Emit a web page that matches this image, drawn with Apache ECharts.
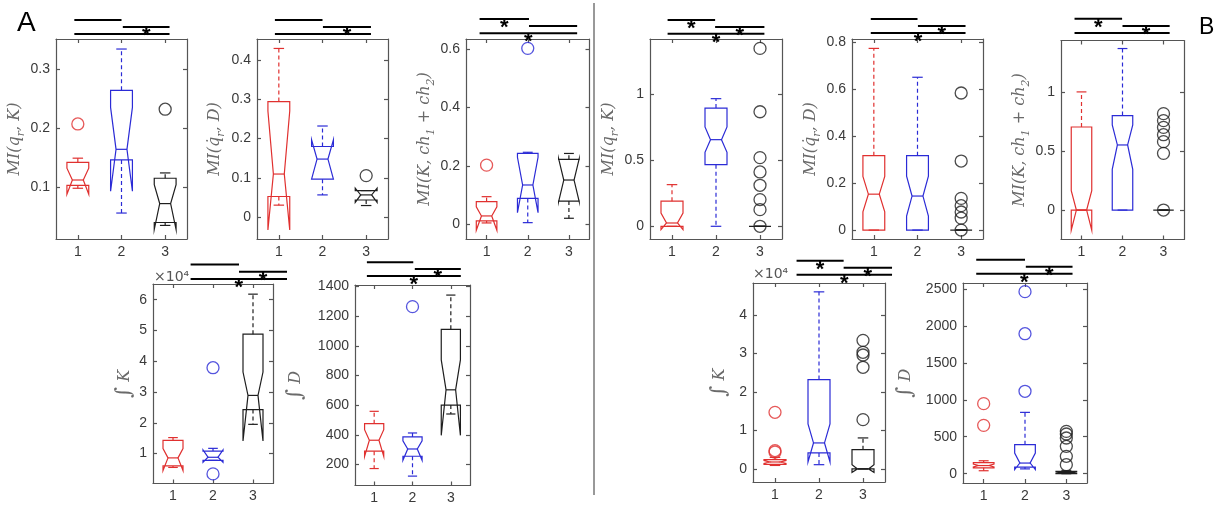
<!DOCTYPE html>
<html><head><meta charset="utf-8">
<script src="https://cdn.jsdelivr.net/npm/echarts@6/dist/echarts.min.js"></script>
<style>html,body{margin:0;padding:0;background:#fff}#c{width:1221px;height:508px}</style>
</head><body><div id="c"></div>
<script>
// ---------------- DATA ----------------
const categories = [1, 2, 3];
// each box row: [low whisker, q1, median, q3, high whisker, notch low, notch high]
const A1_box = [[0.098,0.103,0.112,0.142,0.149,0.088,0.132],[0.056,0.146,0.164,0.264,0.334,0.093,0.235],[0.035,0.040,0.072,0.115,0.124,0.028,0.104]];
const A1_out = [[1,0.207],[3,0.232]];
const A2_box = [[0.031,0.053,0.110,0.294,0.429,-0.032,0.270],[0.057,0.097,0.148,0.180,0.232,0.097,0.197],[0.030,0.044,0.057,0.068,0.068,0.038,0.074]];
const A2_out = [[3,0.106]];
const A3_box = [[0.005,0.012,0.029,0.078,0.095,-0.020,0.060],[0.006,0.089,0.135,0.243,0.247,0.040,0.230],[0.021,0.080,0.152,0.223,0.243,0.078,0.225]];
const A3_out = [[1,0.203],[2,0.603]];
const B1_box = [[0,0,0.025,0.190,0.315,-0.025,0.100],[0,0.466,0.655,0.894,0.965,0.559,0.751],[0,0,0,0,0,0,0]];
const B1_out = [[3,1.345],[3,0.866],[3,0.519],[3,0.411],[3,0.310],[3,0.202],[3,0.126],[3,0]];
const B2_box = [[0,0,0.153,0.317,0.774,0.078,0.229],[0,0,0.145,0.317,0.651,0.060,0.230],[0,0,0,0,0,0,0]];
const B2_out = [[3,0.584],[3,0.294],[3,0.135],[3,0.104],[3,0.077],[3,0.051],[3,0]];
const B3_box = [[0,0,0,0.703,1.0,-0.170,0.164],[0,0,0.551,0.800,1.367,0.345,0.720],[0,0,0,0,0,0,0]];
const B3_out = [[3,0.816],[3,0.757],[3,0.700],[3,0.638],[3,0.579],[3,0.480],[3,0]];
const A4_box = [[5500,6000,8600,14300,15200,4500,11600],[7800,7800,8800,10800,11700,7200,11200],[19500,24300,28900,48800,61800,14100,36500]];
const A4_out = [[2,37900],[2,3400]];
const A5_box = [[173,290,364,476,559,255,435],[122,256,305,386,413,229,360],[541,601,704,1112,1343,397,906]];
const A5_out = [[2,1265]];
const B4_box = [[900,1200,1800,2400,3000,1400,2200],[1100,4160,6750,23200,46000,1800,11700],[0,0,0,5000,8050,-900,1100]];
const B4_out = [[1,14700],[1,4760],[1,4400],[3,33400],[3,30300],[3,29600],[3,26400],[3,12800]];
const B5_box = [[40,80,110,150,175,90,130],[65,90,144,393,830,55,280],[0,0,15,30,40,5,25]];
const B5_out = [[1,948],[1,654],[2,2464],[2,1895],[2,1115],[3,573],[3,537],[3,483],[3,370],[3,235],[3,122]];
// significance bars, top to bottom: [from, to, star]
const A1_sig = [[0.92,2.0,0],[2.03,3.1,1],[0.92,3.1,0]];
const A2_sig = [[0.91,2.0,0],[2.01,3.11,1],[0.91,3.11,0]];
const A3_sig = [[0.83,2.03,1],[2.03,3.2,0],[0.83,3.2,1]];
const B1_sig = [[0.9,1.98,1],[1.98,3.1,1],[0.9,3.1,1]];
const B2_sig = [[0.93,2.0,0],[2.01,3.1,1],[0.93,3.1,1]];
const B3_sig = [[0.83,1.99,1],[2.0,3.15,1],[0.83,3.15,0]];
const A4_sig = [[1.44,2.65,0],[2.65,3.85,1],[1.44,3.85,1]];
const A5_sig = [[0.81,2.02,0],[2.06,3.26,1],[0.81,3.26,1]];
const B4_sig = [[1.49,2.56,1],[2.56,3.66,1],[1.49,3.66,1]];
const B5_sig = [[0.82,2.0,0],[2.02,3.15,1],[0.82,3.15,1]];
// tick values
const A1_ticks = [0.1,0.2,0.3];
const A2_ticks = [0,0.1,0.2,0.3,0.4];
const A3_ticks = [0,0.2,0.4,0.6];
const B1_ticks = [0,0.5,1];
const B2_ticks = [0,0.2,0.4,0.6,0.8];
const B3_ticks = [0,0.5,1];
const A4_ticks = [10000,20000,30000,40000,50000,60000];
const A5_ticks = [200,400,600,800,1000,1200,1400];
const B4_ticks = [0,10000,20000,30000,40000];
const B5_ticks = [0,500,1000,1500,2000,2500];
// axis titles (rich text markup)
const nameMIqK = '{i|MI(q}{s|r}{i|, K)}';
const nameMIqD = '{i|MI(q\u0307}{s|r}{i|, D)}';
const nameMIch = '{i|MI(K, ch}{s|1}{i| + ch}{s|2}{i|)}';
const nameIntK = '{g|\u222B}{i| K}';
const nameIntD = '{g|\u222B}{i| D}';

// ---------------- LAYOUT / STYLE ----------------
const groupColors = ['#e0302f', '#2b2bd6', '#1e1e1e'];
const axisColor = '#555';
const labelColor = '#3a3a3a';
const nameColor = '#6a6a6a';
const panels = [
  {box:A1_box,out:A1_out,sig:A1_sig,ticks:A1_ticks,name:nameMIqK,left:56,top:39,width:131,height:200,min:0.012,max:0.351,gap:28,sb:5,ss:7,div:1},
  {box:A2_box,out:A2_out,sig:A2_sig,ticks:A2_ticks,name:nameMIqD,left:257,top:39,width:131,height:200,min:-0.055,max:0.453,gap:30,sb:5,ss:7,div:1},
  {box:A3_box,out:A3_out,sig:A3_sig,ticks:A3_ticks,name:nameMIch,left:466,top:39,width:123.5,height:200,min:-0.05,max:0.635,gap:26,sb:5.7,ss:7.2,div:1},
  {box:B1_box,out:B1_out,sig:B1_sig,ticks:B1_ticks,name:nameMIqK,left:650,top:39,width:132,height:200,min:-0.096,max:1.416,gap:28,sb:5.3,ss:6.8,div:1},
  {box:B2_box,out:B2_out,sig:B2_sig,ticks:B2_ticks,name:nameMIqD,left:852,top:39,width:131,height:200,min:-0.038,max:0.814,gap:28,sb:6,ss:7,div:1},
  {box:B3_box,out:B3_out,sig:B3_sig,ticks:B3_ticks,name:nameMIch,left:1061,top:40.5,width:123,height:199,min:-0.249,max:1.435,gap:27,sb:7.4,ss:7.2,div:1},
  {box:A4_box,out:A4_out,sig:A4_sig,ticks:A4_ticks,name:nameIntK,left:153,top:284,width:120,height:199.5,min:280,max:65100,gap:16,sb:5,ss:7.2,div:10000},
  {box:A5_box,out:A5_out,sig:A5_sig,ticks:A5_ticks,name:nameIntD,left:355,top:285,width:115,height:200.5,min:58.7,max:1411,gap:47,sb:9,ss:6.9,div:1},
  {box:B4_box,out:B4_out,sig:B4_sig,ticks:B4_ticks,name:nameIntK,left:753,top:283,width:132,height:199,min:-3400,max:48300,gap:21,sb:8.3,ss:7,div:10000},
  {box:B5_box,out:B5_out,sig:B5_sig,ticks:B5_ticks,name:nameIntD,left:963,top:283,width:124,height:200,min:-126,max:2581,gap:45,sb:9.3,ss:7,div:1}
];

const sansFont = '"Liberation Sans", Arial, Helvetica, sans-serif';
const serifFont = '"DejaVu Serif", "Liberation Serif", serif';
const nameRich = {
  i:{fontFamily:serifFont,fontStyle:'italic',fontSize:16,color:nameColor,lineHeight:24},
  s:{fontFamily:serifFont,fontStyle:'italic',fontSize:11,color:nameColor,verticalAlign:'bottom'},
  g:{fontFamily:serifFont,fontStyle:'italic',fontSize:21,color:nameColor,lineHeight:24}
};

function renderBox(params, api) {
  const x = api.value(0);
  const lo = api.value(1), q1 = api.value(2), med = api.value(3), q3 = api.value(4), hi = api.value(5), nlo = api.value(6), nhi = api.value(7);
  const c = (xx, yy) => api.coord([xx, yy]);
  const hw = 0.25, nw = 0.125, cw = 0.12;
  const color = groupColors[Math.round(x) - 1];
  const pts = [c(x-hw,q3), c(x-hw,nhi), c(x-nw,med), c(x-hw,nlo), c(x-hw,q1), c(x+hw,q1), c(x+hw,nlo), c(x+nw,med), c(x+hw,nhi), c(x+hw,q3)];
  const solid = {stroke:color, lineWidth:1.2, fill:null};
  const dashed = {stroke:color, lineWidth:1.2, lineDash:[4,3], fill:null};
  const line = (a, b, st) => ({type:'line', shape:{x1:a[0],y1:a[1],x2:b[0],y2:b[1]}, style:st});
  return {type:'group', children:[
    line(c(x,q3), c(x,hi), dashed),
    line(c(x,q1), c(x,lo), dashed),
    line(c(x-cw,hi), c(x+cw,hi), solid),
    line(c(x-cw,lo), c(x+cw,lo), solid),
    {type:'polygon', shape:{points:pts}, style:{stroke:color, lineWidth:1.2, fill:null}},
    line(c(x-nw,med), c(x+nw,med), solid)
  ]};
}

function makeSigRenderer(p) {
  return function (params, api) {
    const n = p.sig.length;
    const level = n - 1 - params.dataIndex;
    const y = params.coordSys.y - (p.sb + level * p.ss);
    const x1 = api.coord([api.value(0), p.min])[0];
    const x2 = api.coord([api.value(1), p.min])[0];
    const children = [{type:'line', shape:{x1:x1,y1:y,x2:x2,y2:y}, style:{stroke:'#000', lineWidth:2}}];
    if (api.value(2)) {
      children.push({type:'text', x:(x1+x2)/2, y:y+9, style:{text:'*', fontSize:22, fontWeight:'bold', fontFamily:sansFont, fill:'#000', align:'center', verticalAlign:'middle'}});
    }
    return {type:'group', children};
  };
}

const grid = [], xAxis = [], yAxis = [], series = [];
panels.forEach((p, i) => {
  grid.push({left:p.left, top:p.top, width:p.width, height:p.height, containLabel:false});
  const lineStyle = {color:axisColor, width:1.2};
  xAxis.push({gridIndex:i, type:'value', min:0.5, max:3.5, position:'bottom',
    axisLine:{show:true, onZero:false, lineStyle},
    axisTick:{show:true, inside:true, length:4, customValues:categories, lineStyle},
    axisLabel:{show:true, customValues:categories, fontSize:14, color:labelColor, margin:6, fontFamily:sansFont},
    splitLine:{show:false}});
  xAxis.push({gridIndex:i, type:'value', min:0.5, max:3.5, position:'top',
    axisLine:{show:true, onZero:false, lineStyle},
    axisTick:{show:true, inside:true, length:4, customValues:categories, lineStyle},
    axisLabel:{show:false}, splitLine:{show:false}});
  yAxis.push({gridIndex:i, type:'value', min:p.min, max:p.max, position:'left',
    axisLine:{show:true, onZero:false, lineStyle},
    axisTick:{show:true, inside:true, length:4, customValues:p.ticks, lineStyle},
    axisLabel:{show:true, customValues:p.ticks, fontSize:14, color:labelColor, margin:6, fontFamily:sansFont,
      formatter:(v) => String(+(v / p.div).toFixed(3))},
    splitLine:{show:false},
    name:p.name, nameLocation:'middle', nameGap:p.gap, nameRotate:90,
    nameTextStyle:{rich:nameRich}});
  yAxis.push({gridIndex:i, type:'value', min:p.min, max:p.max, position:'right',
    axisLine:{show:true, onZero:false, lineStyle},
    axisTick:{show:true, inside:true, length:4, customValues:p.ticks, lineStyle},
    axisLabel:{show:false}, splitLine:{show:false}});
  series.push({type:'custom', xAxisIndex:2*i, yAxisIndex:2*i, clip:false, silent:true,
    renderItem:renderBox, encode:{x:0, y:[1,2,3,4,5,6,7]},
    data:p.box.map((row, g) => [categories[g]].concat(row))});
  series.push({type:'scatter', xAxisIndex:2*i, yAxisIndex:2*i, silent:true, symbol:'circle', symbolSize:12,
    data:p.out.map(o => ({value:o, itemStyle:{color:'rgba(0,0,0,0)', borderColor:groupColors[o[0]-1], borderWidth:1.3}}))});
  series.push({type:'custom', xAxisIndex:2*i, yAxisIndex:2*i, clip:false, silent:true,
    renderItem:makeSigRenderer(p), encode:{x:[0,1]}, data:p.sig});
});

const graphic = [
  {type:'text', left:17, top:9, style:{text:'A', fontSize:28, fontFamily:sansFont, fill:'#000'}},
  {type:'text', left:1199, top:16, style:{text:'B', fontSize:23, fontFamily:sansFont, fill:'#000'}},
  {type:'line', shape:{x1:594, y1:3, x2:594, y2:495}, style:{stroke:'#333', lineWidth:1}},
  {type:'text', left:154, top:270, style:{text:'\u00D710\u2074', fontSize:14, fontFamily:'"DejaVu Sans", sans-serif', fill:'#555'}},
  {type:'text', left:753, top:267, style:{text:'\u00D710\u2074', fontSize:14, fontFamily:'"DejaVu Sans", sans-serif', fill:'#555'}}
];

const chart = echarts.init(document.getElementById('c'), null, {renderer:'canvas'});
chart.setOption({animation:false, backgroundColor:'#fff', grid, xAxis, yAxis, series, graphic});
</script></body></html>
